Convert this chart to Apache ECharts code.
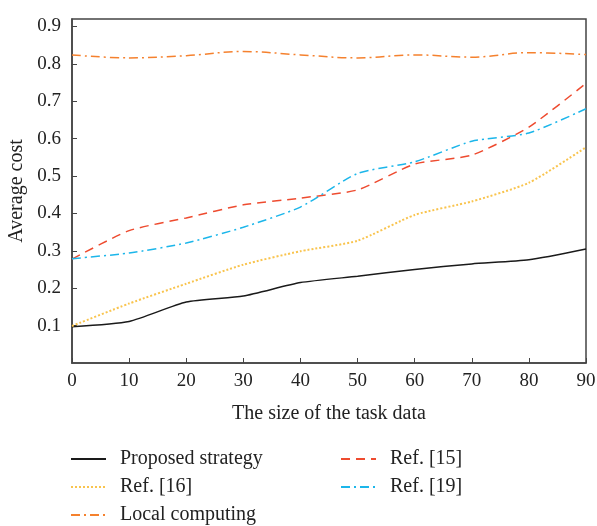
<!DOCTYPE html>
<html>
<head>
<meta charset="utf-8">
<script src="https://cdn.jsdelivr.net/npm/echarts@6/dist/echarts.min.js"></script>
<style>html,body{margin:0;padding:0;background:#fff}#c{width:597px;height:526px}</style>
</head>
<body>
<div id="c"></div>
<script>
var taskSize = [0, 10, 20, 30, 40, 50, 60, 70, 80, 90];
var proposed = [0.097, 0.111, 0.163, 0.179, 0.215, 0.232, 0.250, 0.265, 0.276, 0.305];
var ref16 = [0.099, 0.159, 0.212, 0.263, 0.299, 0.327, 0.396, 0.432, 0.482, 0.577];
var ref15 = [0.278, 0.354, 0.388, 0.423, 0.441, 0.463, 0.532, 0.556, 0.631, 0.748];
var ref19 = [0.279, 0.294, 0.321, 0.363, 0.417, 0.507, 0.538, 0.593, 0.615, 0.680];
var local = [0.824, 0.816, 0.822, 0.833, 0.824, 0.816, 0.824, 0.818, 0.830, 0.825];

function pairs(v){ return taskSize.map(function(x,i){ return [x, v[i]]; }); }
var FONT = '"Liberation Serif", "DejaVu Serif", serif';
var chart = echarts.init(document.getElementById('c'), null, {renderer:'canvas'});
function s(name, data, color, type, width, smooth){
  return {name:name, type:'line', data:pairs(data), symbol:'none', showSymbol:false, smooth:smooth,
    lineStyle:{color:color, type:type, width:width}, itemStyle:{color:color}};
}
var legendCommon = {orient:'vertical', top:449, padding:0, itemWidth:35, itemHeight:10, itemGap:8,
  itemStyle:{color:'transparent', borderWidth:0, opacity:0},
  textStyle:{fontFamily:FONT, fontSize:20, color:'#222', padding:[0,0,0,9]}};
chart.setOption({
  animation:false,
  backgroundColor:'#fff',
  grid:{left:72, right:11, top:19, bottom:163, outerBoundsMode:'none', containLabel:false,
    show:true, borderColor:'#444', borderWidth:1.5, backgroundColor:'transparent'},
  xAxis:{type:'value', min:0, max:90, interval:10,
    name:'The size of the task data', nameLocation:'middle', nameGap:41,
    nameTextStyle:{fontFamily:FONT, fontSize:20, color:'#222'},
    axisLine:{lineStyle:{color:'#444', width:1.5}},
    axisTick:{inside:true, length:5, lineStyle:{color:'#444'}},
    axisLabel:{fontFamily:FONT, fontSize:19, color:'#222', margin:9},
    splitLine:{show:false}},
  yAxis:{type:'value', min:0, max:0.92, interval:0.1,
    name:'Average cost', nameLocation:'middle', nameGap:45,
    nameTextStyle:{fontFamily:FONT, fontSize:20, color:'#222'},
    axisLine:{lineStyle:{color:'#444', width:1.5}},
    axisTick:{inside:true, length:5, lineStyle:{color:'#444'}},
    axisLabel:{fontFamily:FONT, fontSize:19, color:'#222', margin:11, showMinLabel:false, showMaxLabel:false,
      formatter:function(v){ return v.toFixed(1); }},
    splitLine:{show:false}},
  legend:[
    Object.assign({data:['Proposed strategy','Ref. [16]','Local computing'], left:70}, legendCommon),
    Object.assign({data:['Ref. [15]','Ref. [19]'], left:340}, legendCommon)
  ],
  series:[
    s('Proposed strategy', proposed, '#1a1a1a', 'solid', 1.5, 0.2),
    s('Ref. [16]', ref16, '#f9c44e', [2,2], 2, 0.2),
    s('Local computing', local, '#f5812e', [9,4,2,4], 1.5, 0.4),
    s('Ref. [15]', ref15, '#ee4b2f', [9,6], 1.5, 0.2),
    s('Ref. [19]', ref19, '#1cb6ea', [9,4,2,4], 1.5, 0.2)
  ]
});
</script>
</body>
</html>
